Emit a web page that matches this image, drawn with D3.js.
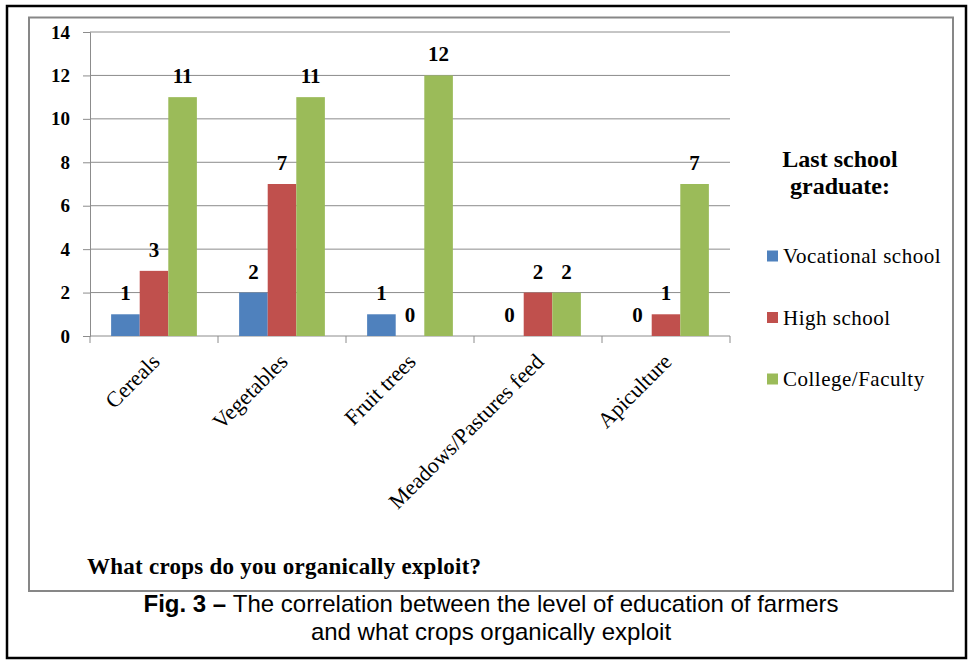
<!DOCTYPE html>
<html>
<head>
<meta charset="utf-8">
<script src="https://cdn.jsdelivr.net/npm/d3@7"></script>
<style>
  body { margin: 0; background: #fff; }
  svg { display: block; }
</style>
</head>
<body>
<div id="chart"></div>
<script>
// Data
var categories  = ["Cereals", "Vegetables", "Fruit trees", "Meadows/Pastures feed", "Apiculture"];
var seriesNames = ["Vocational school", "High school", "College/Faculty"];
var vocational  = [1, 2, 1, 0, 0];
var highSchool  = [3, 7, 0, 2, 1];
var college     = [11, 11, 12, 2, 7];
var yTicks      = [0, 2, 4, 6, 8, 10, 12, 14];
var seriesVals  = [vocational, highSchool, college];
var colors      = ["#4F81BD", "#C0504D", "#9BBB59"];

// Size
var chart_width  = 973;
var chart_height = 663;
var serif = "'Liberation Serif', 'Times New Roman', serif";
var sans  = "'Liberation Sans', Arial, sans-serif";

var svg = d3.select("#chart")
    .append("svg")
    .attr("width", chart_width)
    .attr("height", chart_height);

// Frames
svg.append("rect")
    .attr("x", 7).attr("y", 6)
    .attr("width", 959).attr("height", 652)
    .attr("fill", "none")
    .attr("stroke", "#000")
    .attr("stroke-width", 2.5);

svg.append("rect")
    .attr("x", 29).attr("y", 17.5)
    .attr("width", 924).attr("height", 573.5)
    .attr("fill", "none")
    .attr("stroke", "#878787")
    .attr("stroke-width", 2);

// Scales
var plot = { left: 90, right: 730, top: 32, bottom: 336 };

var x0 = d3.scaleBand()
    .domain(categories)
    .range([plot.left, plot.right])
    .paddingInner(0.33)
    .paddingOuter(0.165);

var x1 = d3.scaleBand()
    .domain(d3.range(seriesNames.length))
    .range([0, x0.bandwidth()]);

var y = d3.scaleLinear()
    .domain([0, 14])
    .range([plot.bottom, plot.top]);

// Gridlines
svg.append("g")
    .selectAll("line")
    .data(yTicks.filter(function(d) { return d > 0; }))
    .enter()
    .append("line")
    .attr("x1", plot.left).attr("x2", plot.right)
    .attr("y1", function(d) { return y(d); })
    .attr("y2", function(d) { return y(d); })
    .attr("stroke", "#8c8c8c")
    .attr("stroke-width", 1);

// Y axis
var yAxis = svg.append("g")
    .attr("transform", "translate(" + plot.left + ",0)")
    .call(d3.axisLeft(y).tickValues(yTicks).tickSize(7).tickPadding(13));
yAxis.select(".domain").attr("stroke", "#8c8c8c");
yAxis.selectAll(".tick line").attr("stroke", "#8c8c8c");
yAxis.selectAll(".tick text")
    .attr("fill", "#000")
    .style("font-family", serif)
    .style("font-weight", "bold")
    .style("font-size", "19px");

// X axis
var xTickPos = categories.map(function(c) { return x0(c) - x0.step() * 0.165; });
xTickPos.push(plot.right);
var xAxis = svg.append("g");
xAxis.append("line")
    .attr("x1", plot.left).attr("x2", plot.right)
    .attr("y1", plot.bottom).attr("y2", plot.bottom)
    .attr("stroke", "#8c8c8c");
xAxis.selectAll(".xtick")
    .data(xTickPos)
    .enter()
    .append("line")
    .attr("x1", function(d) { return d; })
    .attr("x2", function(d) { return d; })
    .attr("y1", plot.bottom).attr("y2", plot.bottom + 7)
    .attr("stroke", "#8c8c8c");

xAxis.selectAll(".xlabel")
    .data(categories)
    .enter()
    .append("text")
    .attr("transform", function(d) {
        return "translate(" + (x0(d) + x0.bandwidth() / 2 + 7) + "," + (plot.bottom + 27) + ") rotate(-45)";
    })
    .attr("text-anchor", "end")
    .style("font-family", serif)
    .style("font-size", "22px")
    .text(function(d) { return d; });

// Bars
var groups = svg.selectAll(".grp")
    .data(seriesVals)
    .enter()
    .append("g")
    .attr("fill", function(d, i) { return colors[i]; });

groups.each(function(vals, si) {
    var g = d3.select(this);
    g.selectAll("rect")
        .data(vals)
        .enter()
        .append("rect")
        .attr("x", function(d, i) { return x0(categories[i]) + x1(si); })
        .attr("y", function(d) { return y(d); })
        .attr("width", x1.bandwidth())
        .attr("height", function(d) { return y(0) - y(d); });

    g.selectAll("text")
        .data(vals)
        .enter()
        .append("text")
        .attr("x", function(d, i) { return x0(categories[i]) + x1(si) + x1.bandwidth() / 2; })
        .attr("y", function(d) { return y(d) - 14; })
        .attr("text-anchor", "middle")
        .attr("fill", "#000")
        .style("font-family", serif)
        .style("font-weight", "bold")
        .style("font-size", "21px")
        .text(function(d) { return d; });
});

// Legend
var legend = svg.append("g");
legend.selectAll(".ltitle")
    .data(["Last school", "graduate:"])
    .enter()
    .append("text")
    .attr("x", 840)
    .attr("y", function(d, i) { return 167 + i * 27; })
    .attr("text-anchor", "middle")
    .style("font-family", serif)
    .style("font-weight", "bold")
    .style("font-size", "24px")
    .text(function(d) { return d; });

var items = legend.selectAll(".item")
    .data(seriesNames)
    .enter()
    .append("g")
    .attr("transform", function(d, i) { return "translate(767," + (256 + i * 61.5) + ")"; });
items.append("rect")
    .attr("x", 0).attr("y", -5.5)
    .attr("width", 11).attr("height", 11)
    .attr("fill", function(d, i) { return colors[i]; });
items.append("text")
    .attr("x", 16)
    .attr("dy", "0.35em")
    .style("font-family", serif)
    .style("font-size", "21px")
    .style("letter-spacing", "0.5px")
    .text(function(d) { return d; });

// Axis title
svg.append("text")
    .attr("x", 87)
    .attr("y", 574)
    .style("font-family", serif)
    .style("font-weight", "bold")
    .style("font-size", "23px")
    .style("letter-spacing", "0.25px")
    .text("What crops do you organically exploit?");

// Caption
var cap1 = svg.append("text")
    .attr("x", 491)
    .attr("y", 612)
    .attr("text-anchor", "middle")
    .style("font-family", sans)
    .style("font-size", "24px");
cap1.append("tspan").style("font-weight", "bold").text("Fig. 3 \u2013 ");
cap1.append("tspan").text("The correlation between the level of education of farmers");

svg.append("text")
    .attr("x", 491)
    .attr("y", 640)
    .attr("text-anchor", "middle")
    .style("font-family", sans)
    .style("font-size", "24px")
    .text("and what crops organically exploit");
</script>
</body>
</html>
